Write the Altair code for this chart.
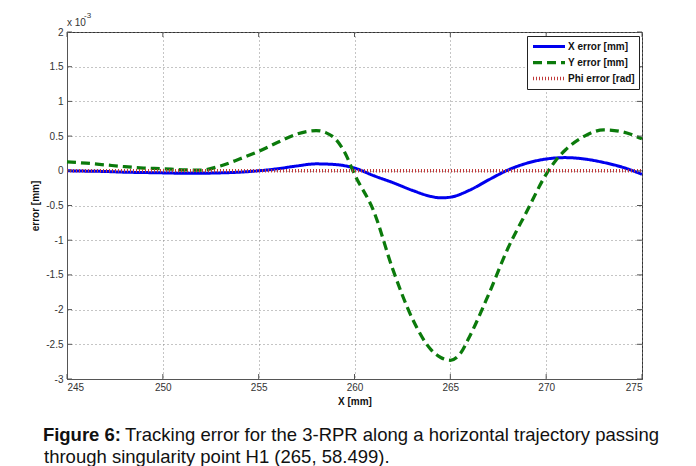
import altair as alt
import pandas as pd

# ---- series data (errors in units of 1e-3) ----
x_err_pos = [245, 246, 247, 248, 249, 250, 251, 252, 253, 254, 255, 256, 257, 258,
             259, 260, 261, 262, 263, 264, 264.5, 265, 266, 267, 268, 269, 270,
             271, 272, 273, 274, 275]
x_err_val = [0.0, -0.005, -0.01, -0.02, -0.025, -0.03, -0.035, -0.035, -0.03, -0.02,
             0.0, 0.03, 0.07, 0.10, 0.09, 0.04, -0.07, -0.17, -0.28, -0.37, -0.39,
             -0.38, -0.28, -0.13, 0.01, 0.11, 0.17, 0.19, 0.17, 0.12, 0.05, -0.05]

y_err_pos = [245, 246, 247, 248, 249, 250, 251, 252, 253, 254, 255, 256, 257, 258,
             258.5, 259, 259.5, 260, 261, 262, 263, 264, 264.5, 265, 265.5, 266,
             267, 268, 269, 270, 270.5, 271, 272, 273, 274, 275]
y_err_val = [0.13, 0.11, 0.085, 0.06, 0.04, 0.03, 0.015, 0.01, 0.07, 0.17, 0.28,
             0.41, 0.53, 0.58, 0.55, 0.46, 0.26, -0.05, -0.58, -1.42, -2.12, -2.58,
             -2.69, -2.73, -2.64, -2.39, -1.78, -1.12, -0.58, -0.05, 0.15, 0.30,
             0.50, 0.59, 0.56, 0.46]

phi_err_pos = [245, 250, 255, 260, 265, 270, 275]
phi_err_val = [0.0, 0.0, 0.0, 0.0, 0.0, 0.0, 0.0]

series_names = ["X error [mm]", "Y error [mm]", "Phi error [rad]"]
series_colors = ["#0000ee", "#0b7a0b", "#c03a3a"]
series_dashes = [[1, 0], [9, 5], [1, 2]]
series_widths = [3, 3.5, 2.5]

x_ticks = [245, 250, 255, 260, 265, 270, 275]
y_ticks = [-3, -2.5, -2, -1.5, -1, -0.5, 0, 0.5, 1, 1.5, 2]

caption_bold = "Figure 6:"
caption_line1 = "Tracking error for the 3-RPR along a horizontal trajectory passing"
caption_line2 = "through singularity point H1 (265, 58.499)."

# ---- layout ----
W, H = 575, 347
PAD = {"left": 67, "top": 32, "right": 696 - 67 - W, "bottom": 466 - 32 - H}
FONT = "Liberation Sans"
AXIS_GREY = "#555555"

frames = []
for name, xs, vs in [(series_names[0], x_err_pos, x_err_val),
                     (series_names[1], y_err_pos, y_err_val),
                     (series_names[2], phi_err_pos, phi_err_val)]:
    frames.append(pd.DataFrame({"x": xs, "err": vs, "series": name}))
df = pd.concat(frames, ignore_index=True)

x_scale = alt.Scale(domain=[245, 275], nice=False, zero=False)
y_scale = alt.Scale(domain=[-3, 2], nice=False, zero=False)

x_axis = alt.Axis(values=x_ticks, title="X [mm]", titleFontWeight="bold",
                  titleFontSize=10, titleFont=FONT, titleColor="#111",
                  titleBaseline="middle", titleY=22,
                  labelFont=FONT, labelFontSize=10, labelColor="#333",
                  labelPadding=3, tickSize=0, domainColor=AXIS_GREY,
                  grid=True, gridDash=[1, 3], gridColor="#8a8a8a",
                  labelExpr="'' + datum.value")
y_axis = alt.Axis(values=y_ticks, title="error [mm]", titleFontWeight="bold",
                  titleFontSize=10, titleFont=FONT, titleColor="#111",
                  titleBaseline="middle", titleX=-32, titleY=H / 2,
                  labelFont=FONT, labelFontSize=10, labelColor="#333",
                  labelPadding=4, tickSize=0, domainColor=AXIS_GREY,
                  grid=True, gridDash=[1, 3], gridColor="#8a8a8a",
                  labelExpr="'' + datum.value")

legend = alt.Legend(title=None, orient="none", legendX=460, legendY=4,
                    fillColor="white", strokeColor="#222",
                    padding=4, rowPadding=3, symbolType="stroke",
                    symbolSize=1024, symbolStrokeWidth=3, clipHeight=13,
                    labelFont=FONT, labelFontSize=10,
                    labelFontWeight="bold", labelColor="#111",
                    labelOffset=1)

lines = alt.Chart(df).mark_line(interpolate="monotone").encode(
    x=alt.X("x:Q", scale=x_scale, axis=x_axis),
    y=alt.Y("err:Q", scale=y_scale, axis=y_axis),
    color=alt.Color("series:N", sort=series_names,
                    scale=alt.Scale(domain=series_names, range=series_colors),
                    legend=legend),
    strokeDash=alt.StrokeDash("series:N", sort=series_names,
                              scale=alt.Scale(domain=series_names, range=series_dashes),
                              legend=legend),
    strokeWidth=alt.StrokeWidth("series:N", sort=series_names,
                                scale=alt.Scale(domain=series_names, range=series_widths),
                                legend=None),
)

# inward tick marks on all four sides
xt = pd.DataFrame({"x": x_ticks})
yt = pd.DataFrame({"err": y_ticks})
tick_bottom = alt.Chart(xt).mark_rule(color=AXIS_GREY).encode(
    x=alt.X("x:Q", scale=x_scale, axis=x_axis), y=alt.value(H), y2=alt.value(H - 5))
tick_top = alt.Chart(xt).mark_rule(color=AXIS_GREY).encode(
    x=alt.X("x:Q", scale=x_scale, axis=x_axis), y=alt.value(0), y2=alt.value(5))
tick_left = alt.Chart(yt).mark_rule(color=AXIS_GREY).encode(
    y=alt.Y("err:Q", scale=y_scale, axis=y_axis), x=alt.value(0), x2=alt.value(5))
tick_right = alt.Chart(yt).mark_rule(color=AXIS_GREY).encode(
    y=alt.Y("err:Q", scale=y_scale, axis=y_axis), x=alt.value(W), x2=alt.value(W - 5))

# exponent label above the y axis
exp_base = alt.Chart(pd.DataFrame({"t": ["x 10"]})).mark_text(
    align="left", baseline="middle", font=FONT, fontSize=10, color="#333"
).encode(x=alt.value(0), y=alt.value(-9), text="t:N")
exp_pow = alt.Chart(pd.DataFrame({"t": ["-3"]})).mark_text(
    align="left", baseline="middle", font=FONT, fontSize=8, color="#333"
).encode(x=alt.value(17), y=alt.value(-16), text="t:N")

# caption below the plot
cap_bold = alt.Chart(pd.DataFrame({"t": [caption_bold]})).mark_text(
    align="right", baseline="middle", font=FONT, fontSize=18.5, fontWeight="bold",
    color="#111"
).encode(x=alt.value(54), y=alt.value(403), text="t:N")
cap_1 = alt.Chart(pd.DataFrame({"t": [caption_line1]})).mark_text(
    align="left", baseline="middle", font=FONT, fontSize=18.5, color="#111"
).encode(x=alt.value(58), y=alt.value(403), text="t:N")
cap_2 = alt.Chart(pd.DataFrame({"t": [caption_line2]})).mark_text(
    align="left", baseline="middle", font=FONT, fontSize=18.5, color="#111"
).encode(x=alt.value(-23), y=alt.value(425), text="t:N")

chart = alt.layer(
    lines, tick_bottom, tick_top, tick_left, tick_right,
    exp_base, exp_pow, cap_bold, cap_1, cap_2
).properties(
    width=W, height=H, autosize=alt.AutoSizeParams(type="none"), padding=PAD,
    background="white"
).configure_view(stroke="#333333", strokeWidth=1)

chart.save("out.html", embed_options={"renderer": "svg", "actions": False})
